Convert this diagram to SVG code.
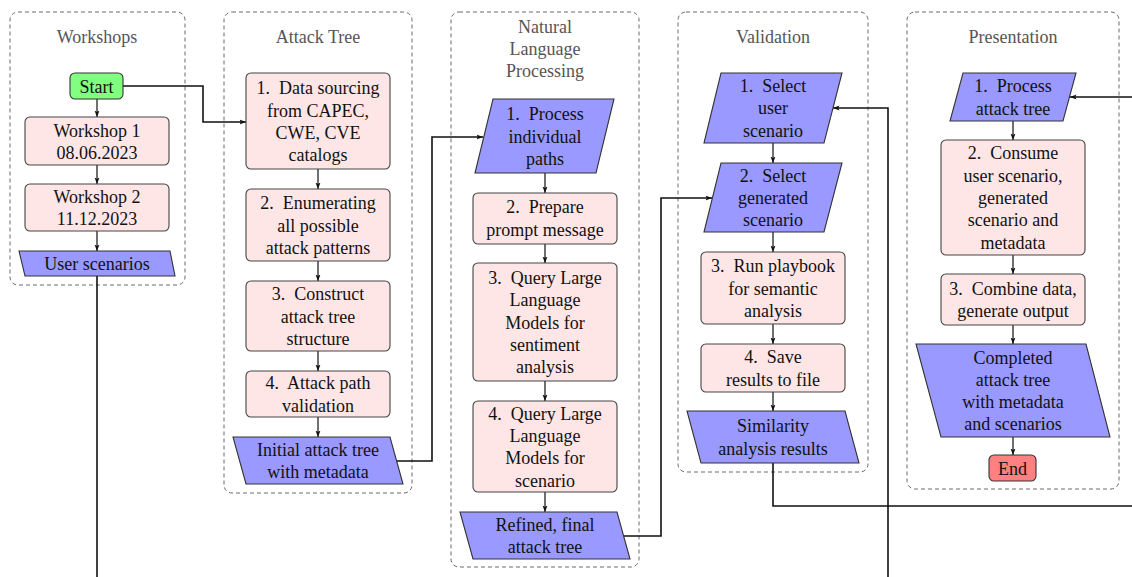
<svg xmlns="http://www.w3.org/2000/svg" width="1132" height="577" viewBox="0 0 1132 577">
  <style>
    .lane { fill: none; stroke: #6b6b6b; stroke-width: 1; stroke-dasharray: 4 3; }
    .title { font-family: "Liberation Serif", "Times New Roman", serif; font-size: 18px; fill: #555; text-anchor: middle; }
    .proc { fill: #ffe6e6; stroke: #444; stroke-width: 1.1; }
    .io { fill: #9999ff; stroke: #333; stroke-width: 1.1; }
    .start { fill: #80ff80; stroke: #333; stroke-width: 1.1; }
    .end { fill: #ff8080; stroke: #333; stroke-width: 1.1; }
    text.t { font-family: "Liberation Serif", "Times New Roman", serif; font-size: 18px; fill: #111; text-anchor: middle; }
    .step { fill: none; stroke: #222; stroke-width: 1.3; marker-end: url(#head); }
    .link { fill: none; stroke: #111; stroke-width: 1.6; }
    .linka { fill: none; stroke: #111; stroke-width: 1.6; marker-end: url(#head); }
  </style>
  <defs>
    <marker id="head" markerUnits="userSpaceOnUse" markerWidth="8" markerHeight="6" refX="6.5" refY="3" orient="auto">
      <path d="M0,0.5 L6.5,3 L0,5.5 L1.4,3 z" fill="#111"/>
    </marker>
  </defs>

  <!-- swimlanes -->
  <g id="lanes">
    <rect class="lane" x="10" y="12" width="175" height="273" rx="8"/>
    <text class="title" x="97" y="43">Workshops</text>
    <rect class="lane" x="224" y="12" width="188" height="481" rx="8"/>
    <text class="title" x="318" y="43">Attack Tree</text>
    <rect class="lane" x="451" y="12" width="188" height="555" rx="8"/>
    <text class="title" x="545" y="33">Natural</text>
    <text class="title" x="545" y="55">Language</text>
    <text class="title" x="545" y="77">Processing</text>
    <rect class="lane" x="678" y="12" width="190" height="460" rx="8"/>
    <text class="title" x="773" y="43">Validation</text>
    <rect class="lane" x="907" y="12" width="212" height="477" rx="8"/>
    <text class="title" x="1013" y="43">Presentation</text>
  </g>

  <!-- connectors -->
  <g id="connectors">
    <path class="step" d="M97,99 V117"/>
    <path class="step" d="M97,165 V184"/>
    <path class="step" d="M97,231 V251"/>

    <path class="step" d="M318,169 V189"/>
    <path class="step" d="M318,261 V281"/>
    <path class="step" d="M318,351 V371"/>
    <path class="step" d="M318,417 V437"/>

    <path class="step" d="M545,173 V193"/>
    <path class="step" d="M545,244 V263"/>
    <path class="step" d="M545,381 V401"/>
    <path class="step" d="M545,492 V512"/>

    <path class="step" d="M773,143 V163"/>
    <path class="step" d="M773,232 V252"/>
    <path class="step" d="M773,324 V344"/>
    <path class="step" d="M773,392 V411"/>

    <path class="step" d="M1013,121 V140"/>
    <path class="step" d="M1013,255 V274"/>
    <path class="step" d="M1013,325 V344"/>
    <path class="step" d="M1013,437 V455"/>

    <path class="linka" d="M123,86 H203 V122 H246"/>
    <path class="linka" d="M397,461 H432 V137 H483"/>
    <path class="linka" d="M624,536 H661 V198 H712"/>
    <path class="link" d="M97,276 V577"/>
    <path class="linka" d="M888,577 V108 H833"/>
    <path class="link" d="M773,463 V506 H1132"/>
    <path class="linka" d="M1132,97 H1070"/>
  </g>

  <!-- Workshops -->
  <g id="start">
    <rect class="start" x="70" y="73" width="53" height="26" rx="5"/>
    <text class="t" x="96.5" y="93">Start</text>
  </g>
  <g id="workshop1">
    <rect class="proc" x="25" y="117" width="144" height="48" rx="5"/>
    <text class="t" x="97" y="136.5">Workshop 1</text>
    <text class="t" x="97" y="158.8">08.06.2023</text>
  </g>
  <g id="workshop2">
    <rect class="proc" x="25" y="184" width="144" height="47" rx="5"/>
    <text class="t" x="97" y="203">Workshop 2</text>
    <text class="t" x="97" y="225.3">11.12.2023</text>
  </g>
  <g id="user-scenarios">
    <polygon class="io" points="19,251 170,251 175,276 25,276"/>
    <text class="t" x="97" y="270">User scenarios</text>
  </g>

  <!-- Attack Tree -->
  <g id="at-sourcing">
    <rect class="proc" x="246" y="73" width="144" height="96" rx="5"/>
    <text class="t" x="318" y="94.3">1.&#160; Data sourcing</text>
    <text class="t" x="318" y="116.6">from CAPEC,</text>
    <text class="t" x="318" y="138.9">CWE, CVE</text>
    <text class="t" x="318" y="161.2">catalogs</text>
  </g>
  <g id="at-enumerate">
    <rect class="proc" x="246" y="189" width="144" height="72" rx="5"/>
    <text class="t" x="318" y="209.2">2.&#160; Enumerating</text>
    <text class="t" x="318" y="231.5">all possible</text>
    <text class="t" x="318" y="253.8">attack patterns</text>
  </g>
  <g id="at-construct">
    <rect class="proc" x="246" y="281" width="144" height="70" rx="5"/>
    <text class="t" x="318" y="300.2">3.&#160; Construct</text>
    <text class="t" x="318" y="322.5">attack tree</text>
    <text class="t" x="318" y="344.8">structure</text>
  </g>
  <g id="at-validation">
    <rect class="proc" x="246" y="371" width="144" height="46" rx="5"/>
    <text class="t" x="318" y="389.3">4.&#160; Attack path</text>
    <text class="t" x="318" y="411.6">validation</text>
  </g>
  <g id="at-initial">
    <polygon class="io" points="233,437 390,437 403,484 246,484"/>
    <text class="t" x="318" y="455.8">Initial attack tree</text>
    <text class="t" x="318" y="478.1">with metadata</text>
  </g>

  <!-- Natural Language Processing -->
  <g id="nlp-process">
    <polygon class="io" points="493,99 614,99 596,173 475,173"/>
    <text class="t" x="545" y="120.2">1.&#160; Process</text>
    <text class="t" x="545" y="142.5">individual</text>
    <text class="t" x="545" y="164.8">paths</text>
  </g>
  <g id="nlp-prompt">
    <rect class="proc" x="473" y="193" width="144" height="51" rx="5"/>
    <text class="t" x="545" y="213.3">2.&#160; Prepare</text>
    <text class="t" x="545" y="235.6">prompt message</text>
  </g>
  <g id="nlp-sentiment">
    <rect class="proc" x="473" y="263" width="144" height="118" rx="5"/>
    <text class="t" x="545" y="283.9">3.&#160; Query Large</text>
    <text class="t" x="545" y="306.2">Language</text>
    <text class="t" x="545" y="328.5">Models for</text>
    <text class="t" x="545" y="350.8">sentiment</text>
    <text class="t" x="545" y="373.1">analysis</text>
  </g>
  <g id="nlp-scenario">
    <rect class="proc" x="473" y="401" width="144" height="91" rx="5"/>
    <text class="t" x="545" y="419.6">4.&#160; Query Large</text>
    <text class="t" x="545" y="441.9">Language</text>
    <text class="t" x="545" y="464.2">Models for</text>
    <text class="t" x="545" y="486.5">scenario</text>
  </g>
  <g id="nlp-refined">
    <polygon class="io" points="460,512 617,512 630,559 473,559"/>
    <text class="t" x="545" y="531">Refined, final</text>
    <text class="t" x="545" y="553.3">attack tree</text>
  </g>

  <!-- Validation -->
  <g id="val-user">
    <polygon class="io" points="721,73 842,73 824,143 704,143"/>
    <text class="t" x="773" y="92">1.&#160; Select</text>
    <text class="t" x="773" y="114.3">user</text>
    <text class="t" x="773" y="136.6">scenario</text>
  </g>
  <g id="val-generated">
    <polygon class="io" points="721,163 842,163 824,232 704,232"/>
    <text class="t" x="773" y="181.5">2.&#160; Select</text>
    <text class="t" x="773" y="203.8">generated</text>
    <text class="t" x="773" y="226.1">scenario</text>
  </g>
  <g id="val-playbook">
    <rect class="proc" x="701" y="252" width="144" height="72" rx="5"/>
    <text class="t" x="773" y="272.2">3.&#160; Run playbook</text>
    <text class="t" x="773" y="294.5">for semantic</text>
    <text class="t" x="773" y="316.8">analysis</text>
  </g>
  <g id="val-save">
    <rect class="proc" x="701" y="344" width="144" height="48" rx="5"/>
    <text class="t" x="773" y="363.3">4.&#160; Save</text>
    <text class="t" x="773" y="385.6">results to file</text>
  </g>
  <g id="val-results">
    <polygon class="io" points="687,411 845,411 859,463 701,463"/>
    <text class="t" x="773" y="432.3">Similarity</text>
    <text class="t" x="773" y="454.6">analysis results</text>
  </g>

  <!-- Presentation -->
  <g id="pres-process">
    <polygon class="io" points="963,73 1076,73 1063,121 950,121"/>
    <text class="t" x="1013" y="92.3">1.&#160; Process</text>
    <text class="t" x="1013" y="114.6">attack tree</text>
  </g>
  <g id="pres-consume">
    <rect class="proc" x="941" y="140" width="144" height="115" rx="5"/>
    <text class="t" x="1013" y="159.4">2.&#160; Consume</text>
    <text class="t" x="1013" y="181.7">user scenario,</text>
    <text class="t" x="1013" y="204">generated</text>
    <text class="t" x="1013" y="226.3">scenario and</text>
    <text class="t" x="1013" y="248.6">metadata</text>
  </g>
  <g id="pres-combine">
    <rect class="proc" x="941" y="274" width="144" height="51" rx="5"/>
    <text class="t" x="1013" y="294.8">3.&#160; Combine data,</text>
    <text class="t" x="1013" y="317.1">generate output</text>
  </g>
  <g id="pres-completed">
    <polygon class="io" points="916,344 1086,344 1110,437 941,437"/>
    <text class="t" x="1013" y="363.5">Completed</text>
    <text class="t" x="1013" y="385.8">attack tree</text>
    <text class="t" x="1013" y="408.1">with metadata</text>
    <text class="t" x="1013" y="430.4">and scenarios</text>
  </g>
  <g id="end">
    <rect class="end" x="989" y="455" width="47" height="26" rx="5"/>
    <text class="t" x="1012.5" y="474.5">End</text>
  </g>
</svg>
